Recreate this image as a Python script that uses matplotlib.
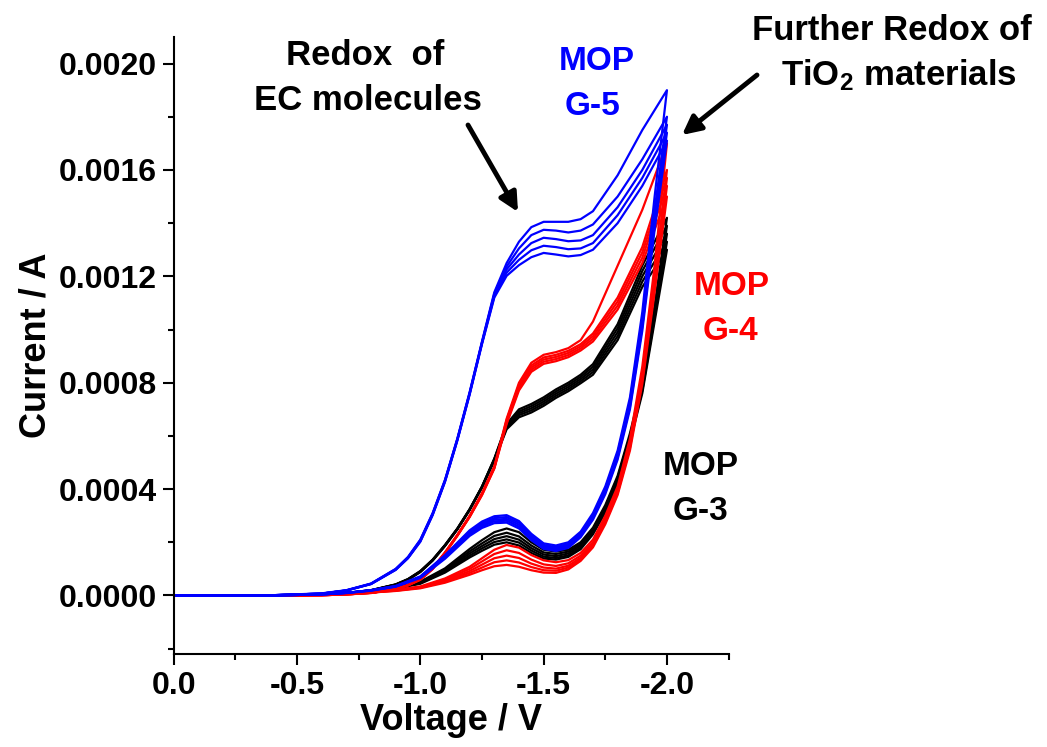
import numpy as np
import matplotlib
matplotlib.use("Agg")
import matplotlib.pyplot as plt
from matplotlib.ticker import MultipleLocator, FormatStrFormatter

plt.rcParams['font.family'] = ['Liberation Sans', 'DejaVu Sans']
plt.rcParams['font.weight'] = 'bold'
plt.rcParams['axes.unicode_minus'] = False
plt.rcParams['mathtext.fontset'] = 'custom'
plt.rcParams['mathtext.rm'] = 'Liberation Sans:bold'
plt.rcParams['mathtext.bf'] = 'Liberation Sans:bold'
plt.rcParams['mathtext.default'] = 'bf'

W, H = 1047, 747

# voltage grids (V): forward sweep towards -2.0 V, reverse sweep back
VF = [0.0, -0.4, -0.6, -0.7, -0.8, -0.9, -1.0, -1.1, -1.2, -1.25, -1.3, -1.35, -1.4,
      -1.45, -1.5, -1.55, -1.6, -1.65, -1.7, -1.75, -1.8, -1.85, -1.9, -1.95, -2.0]
VR = [-2.0, -1.9, -1.8, -1.7, -1.65, -1.6, -1.55, -1.5, -1.45, -1.4, -1.35, -1.3, -1.25,
      -1.2, -1.15, -1.1, -1.05, -1.0, -0.95, -0.9, -0.8, -0.7, -0.6, -0.4, 0.0]
RED_VF = [-0.27, -0.4, -0.6, -0.7, -0.8, -0.9, -1.0, -1.1, -1.2, -1.25, -1.3, -1.35, -1.4,
          -1.45, -1.5, -1.55, -1.6, -1.65, -1.7, -1.75, -1.8, -1.85, -1.9, -1.95, -2.0]
RED_VR = [-2.0, -1.9, -1.8, -1.7, -1.65, -1.6, -1.55, -1.5, -1.45, -1.4, -1.35, -1.3, -1.25,
          -1.2, -1.15, -1.1, -1.05, -1.0, -0.95, -0.9, -0.8, -0.7, -0.6, -0.4, -0.27]

# currents in mA, one row per cycle
G5_FWD = [
    [0, 0, 0.004, 0.010, 0.020, 0.036, 0.072, 0.152, 0.245, 0.278, 0.298, 0.302, 0.280, 0.232, 0.196, 0.188, 0.200, 0.240, 0.310, 0.410, 0.545, 0.745, 1.065, 1.500, 1.900],
    [0, 0, 0.004, 0.010, 0.020, 0.035, 0.070, 0.148, 0.240, 0.272, 0.291, 0.295, 0.273, 0.226, 0.190, 0.182, 0.194, 0.234, 0.303, 0.402, 0.535, 0.730, 1.040, 1.450, 1.800],
    [0, 0, 0.004, 0.010, 0.019, 0.034, 0.069, 0.145, 0.235, 0.266, 0.285, 0.288, 0.266, 0.220, 0.185, 0.177, 0.189, 0.229, 0.297, 0.395, 0.527, 0.720, 1.025, 1.425, 1.770],
    [0, 0, 0.004, 0.010, 0.019, 0.034, 0.068, 0.142, 0.230, 0.260, 0.279, 0.281, 0.259, 0.214, 0.180, 0.172, 0.184, 0.224, 0.291, 0.388, 0.519, 0.710, 1.010, 1.400, 1.740],
    [0, 0, 0.004, 0.009, 0.018, 0.033, 0.066, 0.138, 0.224, 0.254, 0.272, 0.274, 0.252, 0.208, 0.175, 0.167, 0.179, 0.219, 0.285, 0.381, 0.511, 0.700, 0.995, 1.375, 1.710],
]
G5_REV = [
    [1.900, 1.750, 1.580, 1.445, 1.415, 1.405, 1.405, 1.405, 1.385, 1.330, 1.250, 1.140, 0.955, 0.765, 0.590, 0.435, 0.310, 0.210, 0.145, 0.100, 0.045, 0.020, 0.008, 0.001, 0.0],
    [1.800, 1.640, 1.500, 1.395, 1.372, 1.365, 1.372, 1.375, 1.355, 1.305, 1.237, 1.135, 0.952, 0.762, 0.588, 0.433, 0.308, 0.208, 0.143, 0.099, 0.044, 0.019, 0.007, 0.001, 0.0],
    [1.770, 1.600, 1.460, 1.355, 1.335, 1.332, 1.340, 1.345, 1.325, 1.282, 1.226, 1.130, 0.950, 0.760, 0.586, 0.431, 0.306, 0.206, 0.142, 0.098, 0.044, 0.019, 0.007, 0.001, 0.0],
    [1.740, 1.570, 1.430, 1.325, 1.305, 1.302, 1.310, 1.315, 1.298, 1.262, 1.214, 1.125, 0.948, 0.758, 0.584, 0.429, 0.304, 0.204, 0.141, 0.097, 0.043, 0.019, 0.007, 0.001, 0.0],
    [1.710, 1.540, 1.400, 1.300, 1.280, 1.275, 1.282, 1.288, 1.272, 1.242, 1.202, 1.120, 0.945, 0.755, 0.582, 0.427, 0.302, 0.202, 0.140, 0.096, 0.043, 0.018, 0.007, 0.001, 0.0],
]
G3_FWD = [
    [0, 0, 0.004, 0.009, 0.018, 0.030, 0.052, 0.102, 0.175, 0.208, 0.238, 0.252, 0.238, 0.200, 0.172, 0.165, 0.172, 0.200, 0.255, 0.340, 0.450, 0.610, 0.800, 1.090, 1.420],
    [0, 0, 0.004, 0.009, 0.018, 0.029, 0.050, 0.098, 0.166, 0.196, 0.224, 0.236, 0.222, 0.188, 0.162, 0.156, 0.165, 0.193, 0.248, 0.333, 0.443, 0.600, 0.790, 1.075, 1.390],
    [0, 0, 0.004, 0.009, 0.017, 0.028, 0.048, 0.094, 0.158, 0.186, 0.212, 0.223, 0.210, 0.178, 0.154, 0.148, 0.158, 0.187, 0.242, 0.326, 0.436, 0.592, 0.780, 1.060, 1.360],
    [0, 0, 0.004, 0.008, 0.017, 0.027, 0.046, 0.090, 0.150, 0.177, 0.201, 0.211, 0.199, 0.169, 0.146, 0.141, 0.151, 0.180, 0.236, 0.319, 0.429, 0.584, 0.770, 1.045, 1.330],
    [0, 0, 0.003, 0.008, 0.016, 0.026, 0.044, 0.086, 0.143, 0.168, 0.191, 0.200, 0.188, 0.160, 0.139, 0.135, 0.145, 0.174, 0.230, 0.312, 0.422, 0.576, 0.760, 1.030, 1.300],
]
G3_REV = [
    [1.420, 1.240, 1.020, 0.870, 0.830, 0.800, 0.775, 0.745, 0.720, 0.700, 0.645, 0.515, 0.410, 0.325, 0.252, 0.190, 0.135, 0.092, 0.062, 0.042, 0.020, 0.009, 0.004, 0.001, 0.0],
    [1.390, 1.220, 1.005, 0.860, 0.822, 0.792, 0.767, 0.737, 0.712, 0.692, 0.640, 0.513, 0.409, 0.324, 0.251, 0.189, 0.134, 0.091, 0.061, 0.041, 0.020, 0.009, 0.004, 0.001, 0.0],
    [1.360, 1.200, 0.990, 0.850, 0.814, 0.784, 0.759, 0.729, 0.704, 0.685, 0.635, 0.511, 0.408, 0.323, 0.250, 0.188, 0.133, 0.090, 0.060, 0.041, 0.019, 0.009, 0.004, 0.001, 0.0],
    [1.330, 1.180, 0.975, 0.840, 0.806, 0.776, 0.751, 0.721, 0.696, 0.678, 0.630, 0.509, 0.407, 0.322, 0.249, 0.187, 0.132, 0.089, 0.060, 0.040, 0.019, 0.008, 0.004, 0.001, 0.0],
    [1.300, 1.160, 0.960, 0.830, 0.798, 0.768, 0.743, 0.713, 0.688, 0.670, 0.625, 0.507, 0.406, 0.321, 0.248, 0.186, 0.131, 0.088, 0.059, 0.040, 0.019, 0.008, 0.003, 0.001, 0.0],
]
G4_FWD = [
    [0, 0, 0.003, 0.007, 0.013, 0.021, 0.034, 0.064, 0.108, 0.140, 0.172, 0.190, 0.180, 0.152, 0.132, 0.125, 0.133, 0.160, 0.210, 0.300, 0.410, 0.590, 0.860, 1.240, 1.700],
    [0, 0, 0.003, 0.007, 0.012, 0.020, 0.032, 0.060, 0.100, 0.128, 0.156, 0.170, 0.160, 0.135, 0.117, 0.111, 0.121, 0.150, 0.200, 0.290, 0.400, 0.575, 0.840, 1.200, 1.600],
    [0, 0, 0.003, 0.006, 0.012, 0.019, 0.030, 0.056, 0.092, 0.116, 0.140, 0.150, 0.141, 0.120, 0.105, 0.101, 0.112, 0.142, 0.193, 0.282, 0.392, 0.565, 0.825, 1.180, 1.570],
    [0, 0, 0.003, 0.006, 0.011, 0.018, 0.029, 0.052, 0.085, 0.105, 0.125, 0.132, 0.124, 0.107, 0.095, 0.093, 0.105, 0.136, 0.187, 0.275, 0.385, 0.555, 0.810, 1.160, 1.540],
    [0, 0, 0.002, 0.006, 0.011, 0.017, 0.027, 0.048, 0.078, 0.095, 0.110, 0.115, 0.108, 0.095, 0.086, 0.085, 0.098, 0.130, 0.181, 0.268, 0.378, 0.545, 0.795, 1.140, 1.500],
]
G4_REV = [
    [1.700, 1.450, 1.240, 1.030, 0.960, 0.930, 0.915, 0.905, 0.875, 0.800, 0.665, 0.485, 0.385, 0.300, 0.228, 0.162, 0.103, 0.062, 0.040, 0.025, 0.010, 0.004, 0.001, 0.0, 0.0],
    [1.600, 1.310, 1.120, 0.985, 0.945, 0.920, 0.905, 0.895, 0.865, 0.792, 0.660, 0.483, 0.383, 0.298, 0.227, 0.161, 0.102, 0.061, 0.039, 0.025, 0.010, 0.004, 0.001, 0.0, 0.0],
    [1.570, 1.290, 1.105, 0.975, 0.937, 0.912, 0.897, 0.887, 0.857, 0.785, 0.655, 0.481, 0.381, 0.297, 0.226, 0.160, 0.101, 0.060, 0.039, 0.024, 0.010, 0.004, 0.001, 0.0, 0.0],
    [1.540, 1.270, 1.090, 0.965, 0.929, 0.904, 0.889, 0.879, 0.849, 0.778, 0.650, 0.479, 0.379, 0.296, 0.225, 0.159, 0.100, 0.060, 0.038, 0.024, 0.010, 0.004, 0.001, 0.0, 0.0],
    [1.500, 1.250, 1.075, 0.955, 0.921, 0.896, 0.881, 0.871, 0.841, 0.771, 0.645, 0.477, 0.377, 0.295, 0.224, 0.158, 0.099, 0.059, 0.038, 0.024, 0.009, 0.004, 0.001, 0.0, 0.0],
]

SAMPLES = [
    (G3_FWD, G3_REV, VF, VR, '#000000'),
    (G4_FWD, G4_REV, RED_VF, RED_VR, '#ff0000'),
    (G5_FWD, G5_REV, VF, VR, '#0000ff'),
]


def fig_xy(x, y):
    # pixel position in the image -> figure fraction
    return x / W, 1 - y / H


def main():
    fig = plt.figure(figsize=(W / 100, H / 100), dpi=100)
    ax = fig.add_axes([0.1659, 0.1245, 0.530, 0.826])

    for fwd, rev, vf, vr, color in SAMPLES:
        for f, r in zip(fwd, rev):
            v = np.concatenate([vf, vr])
            i = np.concatenate([f, r]) / 1000.0
            ax.plot(v, i, color=color, lw=1.6, solid_joinstyle='round')

    ax.set_xlim(0, -2.25)
    ax.set_ylim(-0.00022, 0.0021)
    ax.xaxis.set_major_locator(MultipleLocator(0.5))
    ax.xaxis.set_minor_locator(MultipleLocator(0.25))
    ax.yaxis.set_major_locator(MultipleLocator(0.0004))
    ax.yaxis.set_minor_locator(MultipleLocator(0.0002))
    ax.xaxis.set_major_formatter(FormatStrFormatter('%.1f'))
    ax.yaxis.set_major_formatter(FormatStrFormatter('%.4f'))

    for s in ['top', 'right']:
        ax.spines[s].set_visible(False)
    for s in ['left', 'bottom']:
        ax.spines[s].set_linewidth(1.5)
    ax.tick_params(which='major', direction='out', length=8, width=1.5, labelsize=23, pad=4)
    ax.tick_params(which='minor', direction='out', length=4, width=1.5)

    ax.set_xlabel('Voltage / V', fontsize=26, fontweight='bold', labelpad=2)
    ax.set_ylabel('Current / A', fontsize=26, fontweight='bold', labelpad=4)

    notes = [
        ('Redox  of', 365, 65, 'k', 25), ('EC molecules', 368, 110, 'k', 25),
        ('MOP', 597, 70, '#0000ff', 24), ('G-5', 593, 115, '#0000ff', 24),
        ('MOP', 732, 295, '#ff0000', 24), ('G-4', 730, 340, '#ff0000', 24),
        ('MOP', 701, 475, 'k', 24), ('G-3', 701, 520, 'k', 24),
        ('Further Redox of', 892, 40, 'k', 25), ('TiO$_2$ materials', 899, 85, 'k', 25),
    ]
    for text, x, y, c, size in notes:
        fx, fy = fig_xy(x, y)
        fig.text(fx, fy, text, fontsize=size, fontweight='bold', color=c,
                 ha='center', va='baseline')

    arrows = [((468, 125), (518, 212)), ((757, 75), (682, 135))]
    for tail, tip in arrows:
        ax.annotate('', xy=fig_xy(*tip), xytext=fig_xy(*tail),
                    xycoords='figure fraction', textcoords='figure fraction',
                    arrowprops=dict(arrowstyle='-|>', lw=3.5, color='k',
                                    mutation_scale=28, shrinkA=0, shrinkB=0))

    fig.savefig('out.png', dpi=100)


if __name__ == '__main__':
    main()
